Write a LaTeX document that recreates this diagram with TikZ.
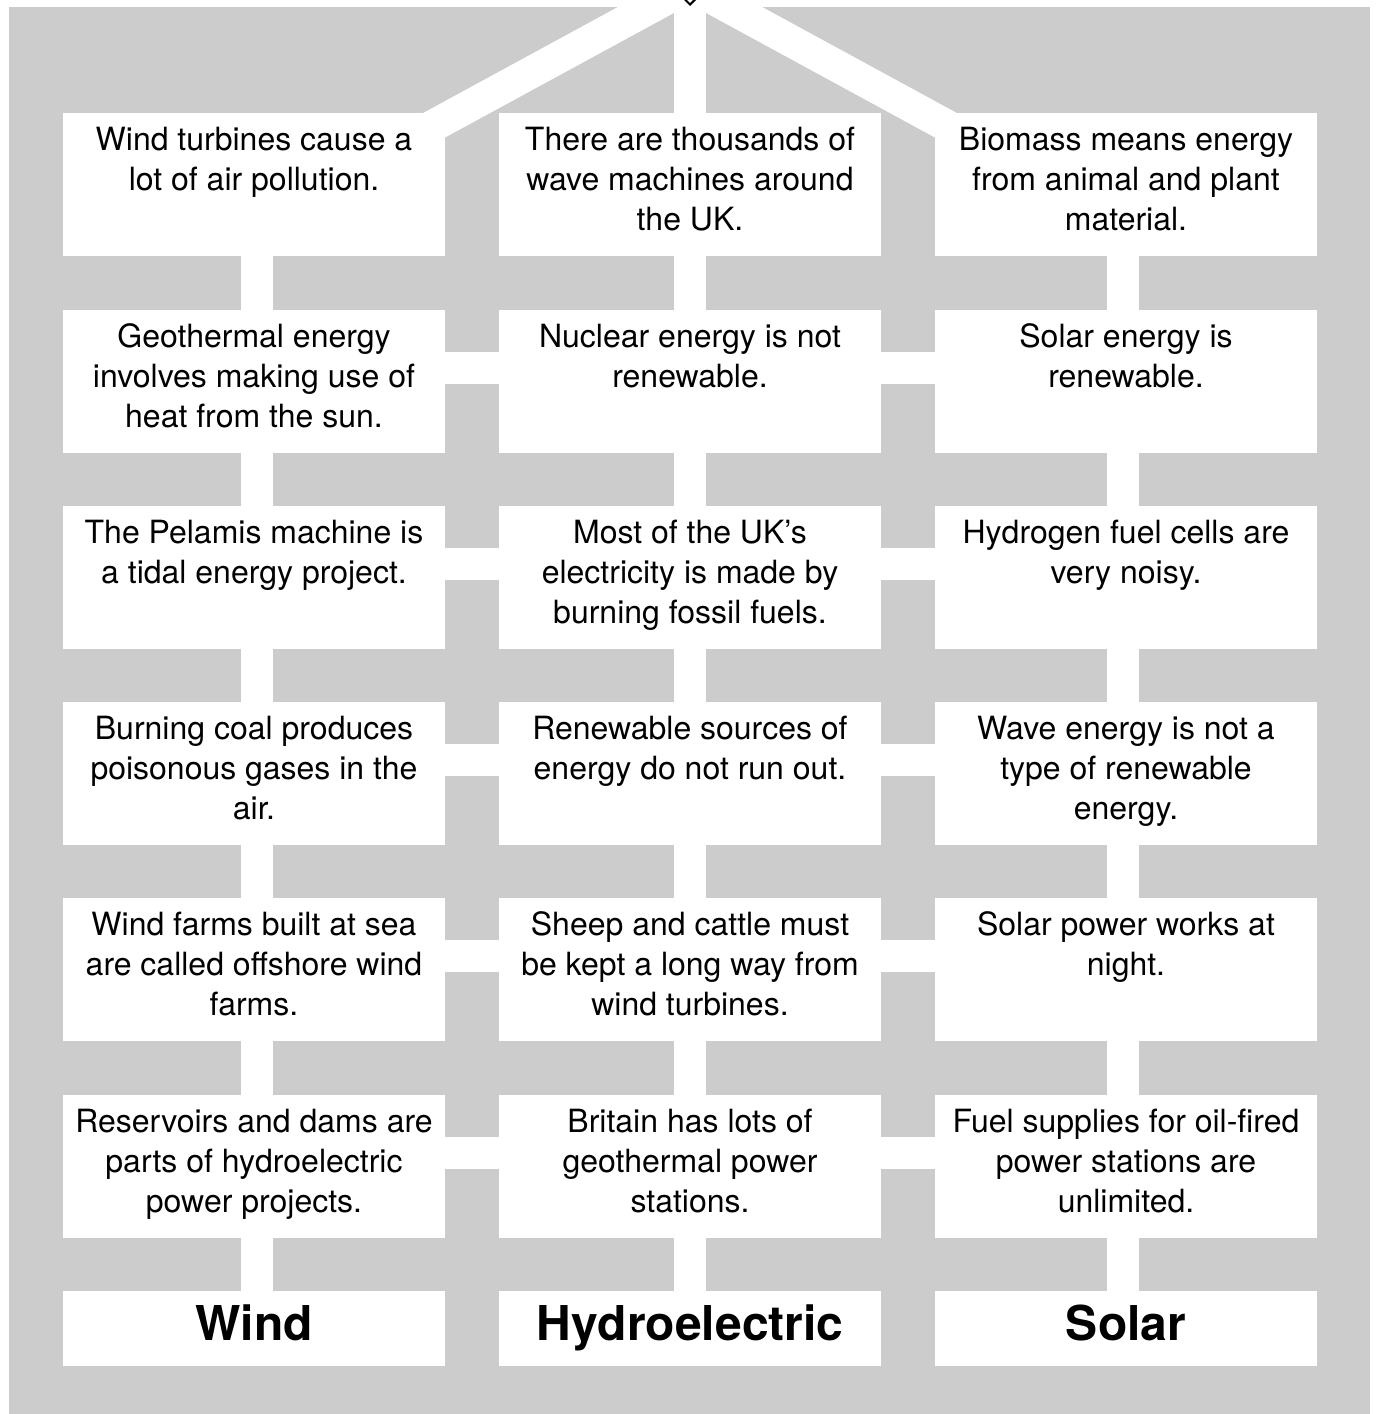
\documentclass[tikz,border=0pt]{standalone}
\usepackage{fontspec}
\setmainfont{TeX Gyre Heros}
\usetikzlibrary{shapes.geometric,positioning}
\pgfdeclarelayer{back}
\pgfdeclarelayer{links}
\pgfsetlayers{back,links,main}
\definecolor{panel}{HTML}{CCCCCC}
\tikzset{
  card/.style={fill=white, inner sep=0pt},
  tag/.style={fill=white, inner sep=0pt, minimum width=191pt, minimum height=37.5pt,
    font=\fontsize{24}{28}\selectfont\bfseries, text height=17pt, text depth=5.5pt},
  link/.style={white, line width=16pt},
  root/.style={diamond, draw=black, fill=white, line width=1pt, inner sep=0pt,
    minimum width=19pt, minimum height=19pt},
}
\newcommand{\cardtext}[1]{\parbox[c][71.5pt][t]{191pt}{\centering
  \fontsize{16}{20}\selectfont\rule{0pt}{18.5pt}#1}}
\begin{document}
\begin{tikzpicture}[x=0.5pt, y=-0.5pt]
      \useasboundingbox (0,0) rectangle (1378,1414);
      \begin{pgfonlayer}{back}
        \fill[white] (0,0) rectangle (1378,1414);
        \fill[panel] (9,7) rectangle (1370,1414);
      \end{pgfonlayer}
      \node[root] (root) at (690,-14) {};
      % left column
      \node[card] (w1) at (254,184.5) {\cardtext{Wind turbines cause a\\lot of air pollution.}};
      \node[card] (w2) at (254,381.5) {\cardtext{Geothermal energy\\involves making use of\\heat from the sun.}};
      \node[card] (w3) at (254,577.5) {\cardtext{The Pelamis machine is\\a tidal energy project.}};
      \node[card] (w4) at (254,773.5) {\cardtext{Burning coal produces\\poisonous gases in the\\air.}};
      \node[card] (w5) at (254,969.5) {\cardtext{Wind farms built at sea\\are called offshore wind\\farms.}};
      \node[card] (w6) at (254,1166.5) {\cardtext{Reservoirs and dams are\\parts of hydroelectric\\power projects.}};
      \node[tag] (wind) at (254,1328.5) {Wind};
      % middle column
      \node[card] (h1) at (690,184.5) {\cardtext{There are thousands of\\wave machines around\\the UK.}};
      \node[card] (h2) at (690,381.5) {\cardtext{Nuclear energy is not\\renewable.}};
      \node[card] (h3) at (690,577.5) {\cardtext{Most of the UK’s\\electricity is made by\\burning fossil fuels.}};
      \node[card] (h4) at (690,773.5) {\cardtext{Renewable sources of\\energy do not run out.}};
      \node[card] (h5) at (690,969.5) {\cardtext{Sheep and cattle must\\be kept a long way from\\wind turbines.}};
      \node[card] (h6) at (690,1166.5) {\cardtext{Britain has lots of\\geothermal power\\stations.}};
      \node[tag] (hydro) at (690,1328.5) {Hydroelectric};
      % right column
      \node[card] (s1) at (1126,184.5) {\cardtext{Biomass means energy\\from animal and plant\\material.}};
      \node[card] (s2) at (1126,381.5) {\cardtext{Solar energy is\\renewable.}};
      \node[card] (s3) at (1126,577.5) {\cardtext{Hydrogen fuel cells are\\very noisy.}};
      \node[card] (s4) at (1126,773.5) {\cardtext{Wave energy is not a\\type of renewable\\energy.}};
      \node[card] (s5) at (1126,969.5) {\cardtext{Solar power works at\\night.}};
      \node[card] (s6) at (1126,1166.5) {\cardtext{Fuel supplies for oil-fired\\power stations are\\unlimited.}};
      \node[tag] (solar) at (1126,1328.5) {Solar};
      \begin{pgfonlayer}{links}
      \begin{scope}[link]
        \draw (root.center) -- (h1.center);
        \draw[shorten >=-20pt] (root.center) -- ([yshift=-3.25pt]w1.north east);
        \draw[shorten >=-20pt] (root.center) -- ([yshift=-3.25pt]s1.north west);
        \draw ([xshift=1.5pt]w1.center) -- ([xshift=1.5pt]w2.center);
        \draw ([xshift=1.5pt]w2.center) -- ([xshift=1.5pt]w3.center);
        \draw ([xshift=1.5pt]w3.center) -- ([xshift=1.5pt]w4.center);
        \draw ([xshift=1.5pt]w4.center) -- ([xshift=1.5pt]w5.center);
        \draw ([xshift=1.5pt]w5.center) -- ([xshift=1.5pt]w6.center);
        \draw ([xshift=1.5pt]w6.center) -- ([xshift=1.5pt]wind.center);
        \draw (h1) -- (h2);
        \draw (h2) -- (h3);
        \draw (h3) -- (h4);
        \draw (h4) -- (h5);
        \draw (h5) -- (h6);
        \draw (h6) -- (hydro);
        \draw ([xshift=-1.5pt]s1.center) -- ([xshift=-1.5pt]s2.center);
        \draw ([xshift=-1.5pt]s2.center) -- ([xshift=-1.5pt]s3.center);
        \draw ([xshift=-1.5pt]s3.center) -- ([xshift=-1.5pt]s4.center);
        \draw ([xshift=-1.5pt]s4.center) -- ([xshift=-1.5pt]s5.center);
        \draw ([xshift=-1.5pt]s5.center) -- ([xshift=-1.5pt]s6.center);
        \draw ([xshift=-1.5pt]s6.center) -- ([xshift=-1.5pt]solar.center);
        \draw ([yshift=6.75pt]w2.center) -- ([yshift=6.75pt]h2.center);
        \draw ([yshift=6.75pt]w3.center) -- ([yshift=6.75pt]h3.center);
        \draw ([yshift=6.75pt]w4.center) -- ([yshift=6.75pt]h4.center);
        \draw ([yshift=6.75pt]w5.center) -- ([yshift=6.75pt]h5.center);
        \draw ([yshift=6.75pt]w6.center) -- ([yshift=6.75pt]h6.center);
        \draw ([yshift=6.75pt]h2.center) -- ([yshift=6.75pt]s2.center);
        \draw ([yshift=6.75pt]h3.center) -- ([yshift=6.75pt]s3.center);
        \draw ([yshift=6.75pt]h4.center) -- ([yshift=6.75pt]s4.center);
        \draw ([yshift=6.75pt]h5.center) -- ([yshift=6.75pt]s5.center);
        \draw ([yshift=6.75pt]h6.center) -- ([yshift=6.75pt]s6.center);
      \end{scope}
      \end{pgfonlayer}
    \end{tikzpicture}
\end{document}
